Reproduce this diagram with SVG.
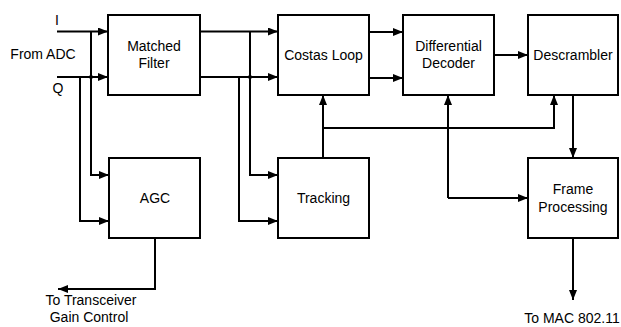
<svg xmlns="http://www.w3.org/2000/svg" width="621" height="327" viewBox="0 0 621 327">
<style>
.box{fill:#fff;stroke:#000;stroke-width:2}
.ln{fill:none;stroke:#000;stroke-width:2}
text{font-family:"Liberation Sans",Arial,sans-serif;font-size:14px;fill:#000;text-anchor:middle}
</style>
<defs>
<marker id="ah" markerWidth="10" markerHeight="8" refX="10" refY="4" orient="auto" markerUnits="userSpaceOnUse">
<path d="M0,0 L10,4 L0,8 Z" fill="#000"/>
</marker>
</defs>
<rect width="621" height="327" fill="#fff"/>
<g id="connectors">
<path class="ln" d="M57,31.5 H108" marker-end="url(#ah)"/>
<path class="ln" d="M57,77 H108" marker-end="url(#ah)"/>
<path class="ln" d="M91,31.5 V175 H109" marker-end="url(#ah)"/>
<path class="ln" d="M80,77 V221 H109" marker-end="url(#ah)"/>
<path class="ln" d="M200,31.5 H278" marker-end="url(#ah)"/>
<path class="ln" d="M200,77 H278" marker-end="url(#ah)"/>
<path class="ln" d="M250,31.5 V175 H278" marker-end="url(#ah)"/>
<path class="ln" d="M239,77 V221 H278" marker-end="url(#ah)"/>
<path class="ln" d="M155,238 V289 H58" marker-end="url(#ah)"/>
<path class="ln" d="M369,32 H403" marker-end="url(#ah)"/>
<path class="ln" d="M369,78 H403" marker-end="url(#ah)"/>
<path class="ln" d="M494,55 H528" marker-end="url(#ah)"/>
<path class="ln" d="M323,158 V95" marker-end="url(#ah)"/>
<path class="ln" d="M323,128 H554 V95" marker-end="url(#ah)"/>
<path class="ln" d="M448,198 V95" marker-end="url(#ah)"/>
<path class="ln" d="M448,198 H528" marker-end="url(#ah)"/>
<path class="ln" d="M573,95 V158" marker-end="url(#ah)"/>
<path class="ln" d="M573,238 V300" marker-end="url(#ah)"/>
<circle cx="91" cy="77" r="2" fill="#000"/>
<circle cx="250" cy="77" r="2" fill="#000"/>
</g>
<g id="labels">
<text x="57" y="25">I</text>
<text x="43" y="59">From ADC</text>
<text x="58" y="93">Q</text>
<text x="91" y="305">To Transceiver</text>
<text x="89" y="322">Gain Control</text>
<text x="572" y="323">To MAC 802.11</text>
</g>
<g id="matched-filter">
<rect class="box" x="108" y="15" width="92" height="80"/>
<text x="154" y="51">Matched</text>
<text x="154" y="68">Filter</text>
</g>
<g id="agc">
<rect class="box" x="109" y="158" width="91" height="80"/>
<text x="155" y="203">AGC</text>
</g>
<g id="costas-loop">
<rect class="box" x="278" y="15" width="91" height="80"/>
<text x="323.5" y="60">Costas Loop</text>
</g>
<g id="tracking">
<rect class="box" x="278" y="158" width="91" height="80"/>
<text x="323.5" y="203">Tracking</text>
</g>
<g id="differential-decoder">
<rect class="box" x="403" y="15" width="91" height="80"/>
<text x="448.5" y="51">Differential</text>
<text x="448.5" y="68">Decoder</text>
</g>
<g id="descrambler">
<rect class="box" x="528" y="15" width="90" height="80"/>
<text x="573" y="60">Descrambler</text>
</g>
<g id="frame-processing">
<rect class="box" x="528" y="158" width="90" height="80"/>
<text x="573" y="194">Frame</text>
<text x="573" y="212">Processing</text>
</g>
</svg>
